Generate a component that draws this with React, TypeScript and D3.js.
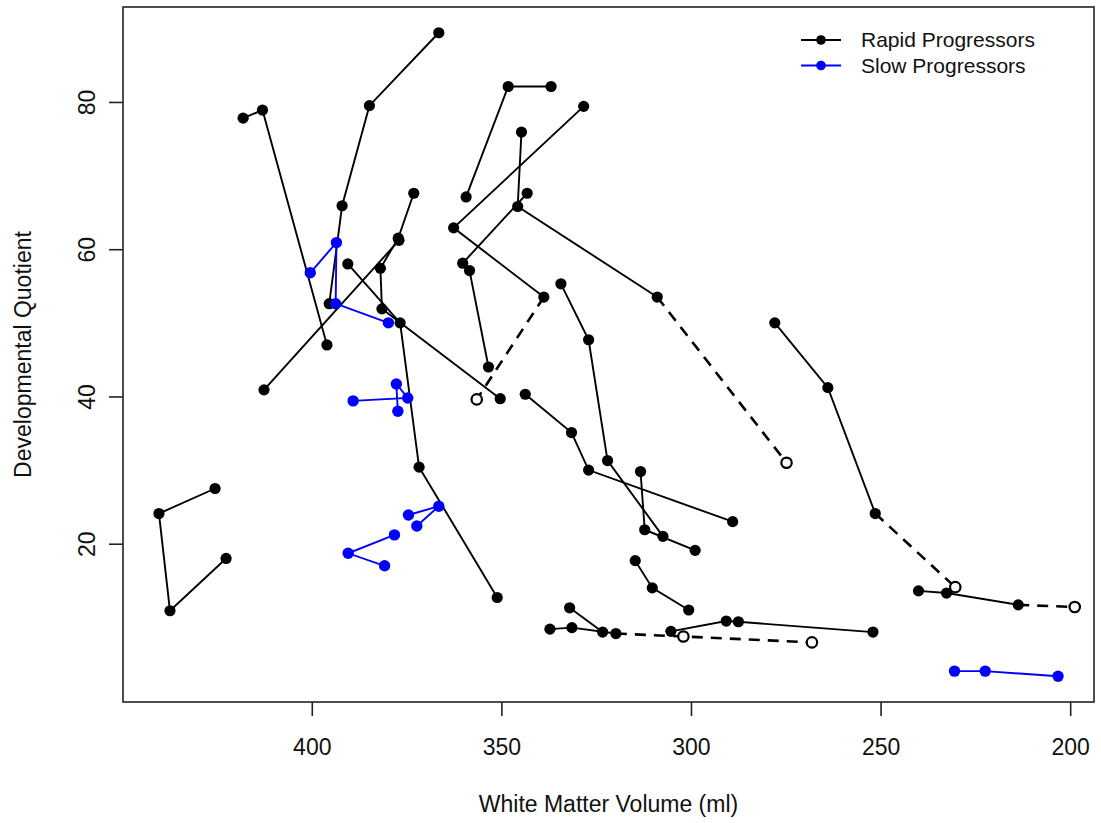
import { useEffect, useRef } from 'react'
import * as d3 from 'd3'

// white matter volume (ml), developmental quotient
const rapidTracks: number[][][] = [
  [[366.5, 89.4], [384.8, 79.5], [392.0, 65.9], [395.4, 52.6]],
  [[418.1, 77.8], [413.0, 78.9], [396.0, 47.0]],
  [[373.1, 67.6], [377.2, 61.5], [381.9, 57.4], [381.5, 51.9], [350.3, 39.7]],
  [[412.6, 40.9], [377.0, 61.2]],
  [[390.5, 58.0], [376.7, 50.0], [371.7, 30.4], [351.1, 12.7]],
  [[359.3, 67.1], [348.2, 82.1], [336.9, 82.1]],
  [[328.3, 79.4], [362.6, 62.9], [338.8, 53.5]],
  [[344.7, 75.9], [345.7, 65.8], [308.9, 53.5]],
  [[343.2, 67.6], [360.2, 58.1]],
  [[358.4, 57.1], [353.4, 44.0]],
  [[334.3, 55.3], [327.0, 47.7], [322.0, 31.3], [307.4, 21.0]],
  [[313.3, 29.8], [312.2, 21.9], [298.9, 19.1]],
  [[343.7, 40.3], [331.5, 35.1], [327.0, 30.0], [289.0, 23.0]],
  [[314.7, 17.7], [310.2, 14.0], [300.6, 11.0]],
  [[332.0, 11.3], [323.3, 8.0]],
  [[337.2, 8.4], [331.4, 8.6], [319.8, 7.8]],
  [[305.3, 8.1], [290.7, 9.5], [287.5, 9.4], [252.0, 8.0]],
  [[277.9, 50.0], [263.9, 41.2], [251.4, 24.1]],
  [[240.0, 13.6], [232.6, 13.3], [213.7, 11.7]],
  [[425.5, 27.5], [440.3, 24.1], [437.4, 10.9], [422.6, 18.0]]
]

// missing visits (open circles, dashed), same order as rapidTracks
const rapidMissing: number[][][] = [
  [], [], [], [], [], [],
  [[356.5, 39.6]],
  [[274.8, 31.0]],
  [], [], [], [], [], [], [],
  [[302.0, 7.4], [268.1, 6.6]],
  [],
  [[230.3, 14.1]],
  [[198.8, 11.4]],
  []
]

const slowTracks: number[][][] = [
  [[400.4, 56.8], [393.5, 60.9], [393.7, 52.6], [379.8, 50.0]],
  [[389.1, 39.4], [374.7, 39.8], [377.7, 41.7], [377.3, 38.0]],
  [[374.5, 23.9], [366.5, 25.1], [372.3, 22.4]],
  [[378.2, 21.2], [390.4, 18.7], [380.8, 17.0]],
  [[230.5, 2.7], [222.4, 2.7], [203.2, 2.0]]
]

const xTicks = [400, 350, 300, 250, 200]
const yTicks = [20, 40, 60, 80]
const legendLabels = ['Rapid Progressors', 'Slow Progressors']
const legendColors = ['black', 'blue']

export default function App() {
  const canvas = useRef<SVGSVGElement>(null)

  useEffect(() => {
    drawChart()
  }, [])

  const drawChart = () => {
    const width = 1101
    const height = 823
    const margin = { top: 7, right: 7, bottom: 121, left: 123 }
    const font = 'Liberation Sans, Arial, Helvetica, sans-serif'

    const svg = d3.select(canvas.current)
    svg.selectAll('*').remove()

    // R style 4% padding around the observed data
    const observed = [...rapidTracks.flat(), ...slowTracks.flat()]
    const [x0, x1] = d3.extent(observed, d => d[0]) as [number, number]
    const [y0, y1] = d3.extent(observed, d => d[1]) as [number, number]
    const px = (x1 - x0) * 0.04
    const py = (y1 - y0) * 0.04

    const xScale = d3.scaleLinear()
      .domain([x1 + px, x0 - px])
      .range([margin.left, width - margin.right])
    const yScale = d3.scaleLinear()
      .domain([y0 - py, y1 + py])
      .range([height - margin.bottom, margin.top])

    const line = d3.line<number[]>()
      .x(d => xScale(d[0]))
      .y(d => yScale(d[1]))

    const g = svg.append('g')

    // rapid progressors
    rapidTracks.forEach((track, i) => {
      const miss = rapidMissing[i]
      if (miss.length) {
        g.append('path')
          .attr('d', line([track[track.length - 1], ...miss]))
          .attr('fill', 'none')
          .attr('stroke', 'black')
          .attr('stroke-width', 2.6)
          .attr('stroke-dasharray', '11,8')
      }
      g.append('path')
        .attr('d', line(track))
        .attr('fill', 'none')
        .attr('stroke', 'black')
        .attr('stroke-width', 1.9)
      g.selectAll(null)
        .data(track)
        .enter()
        .append('circle')
        .attr('cx', d => xScale(d[0]))
        .attr('cy', d => yScale(d[1]))
        .attr('r', 5.6)
        .attr('fill', 'black')
      g.selectAll(null)
        .data(miss)
        .enter()
        .append('circle')
        .attr('cx', d => xScale(d[0]))
        .attr('cy', d => yScale(d[1]))
        .attr('r', 5.2)
        .attr('fill', 'white')
        .attr('stroke', 'black')
        .attr('stroke-width', 2.2)
    })

    // slow progressors
    slowTracks.forEach(track => {
      g.append('path')
        .attr('d', line(track))
        .attr('fill', 'none')
        .attr('stroke', 'blue')
        .attr('stroke-width', 1.9)
      g.selectAll(null)
        .data(track)
        .enter()
        .append('circle')
        .attr('cx', d => xScale(d[0]))
        .attr('cy', d => yScale(d[1]))
        .attr('r', 5.7)
        .attr('fill', 'blue')
    })

    // frame
    svg.append('rect')
      .attr('x', margin.left)
      .attr('y', margin.top)
      .attr('width', width - margin.left - margin.right)
      .attr('height', height - margin.top - margin.bottom)
      .attr('fill', 'none')
      .attr('stroke', '#222')
      .attr('stroke-width', 1.6)

    // X axis
    const xAxis = d3.axisBottom(xScale)
      .tickValues(xTicks)
      .tickSize(14)
      .tickPadding(23)
    const gx = svg.append('g')
      .attr('transform', `translate(0, ${height - margin.bottom})`)
      .call(xAxis)
    gx.select('.domain').remove()
    gx.selectAll('line').attr('stroke', '#222').attr('stroke-width', 1.6)
    gx.selectAll('text')
      .attr('font-family', font)
      .attr('font-size', 23)
      .attr('fill', '#111')

    // Y axis
    const yAxis = d3.axisLeft(yScale)
      .tickValues(yTicks)
      .tickSize(14)
    const gy = svg.append('g')
      .attr('transform', `translate(${margin.left}, 0)`)
      .call(yAxis)
    gy.select('.domain').remove()
    gy.selectAll('line').attr('stroke', '#222').attr('stroke-width', 1.6)
    gy.selectAll('text')
      .attr('font-family', font)
      .attr('font-size', 23)
      .attr('fill', '#111')
      .attr('x', 0)
      .attr('dy', 0)
      .attr('text-anchor', 'middle')
      .attr('transform', 'translate(-28, 0) rotate(-90)')

    // axis titles
    svg.append('text')
      .attr('x', (margin.left + width - margin.right) / 2)
      .attr('y', 812)
      .attr('text-anchor', 'middle')
      .attr('font-family', font)
      .attr('font-size', 23)
      .attr('fill', '#111')
      .text('White Matter Volume (ml)')

    svg.append('text')
      .attr('transform', `translate(31, ${(margin.top + height - margin.bottom) / 2}) rotate(-90)`)
      .attr('text-anchor', 'middle')
      .attr('font-family', font)
      .attr('font-size', 23)
      .attr('fill', '#111')
      .text('Developmental Quotient')

    // legend
    const legend = svg.append('g').attr('transform', 'translate(801, 40)')
    legendLabels.forEach((label, i) => {
      const row = legend.append('g').attr('transform', `translate(0, ${i * 25.5})`)
      row.append('line')
        .attr('x1', 0).attr('x2', 40)
        .attr('stroke', legendColors[i])
        .attr('stroke-width', 1.9)
      row.append('circle')
        .attr('cx', 20)
        .attr('r', 4.8)
        .attr('fill', legendColors[i])
      row.append('text')
        .attr('x', 60)
        .attr('dy', '0.35em')
        .attr('font-family', font)
        .attr('font-size', 21)
        .attr('fill', '#111')
        .text(label)
    })
  }

  return (
    <svg
      ref={canvas}
      width={1101}
      height={823}
      style={{ position: 'absolute', left: 0, top: 0, background: 'white' }}
    />
  )
}
